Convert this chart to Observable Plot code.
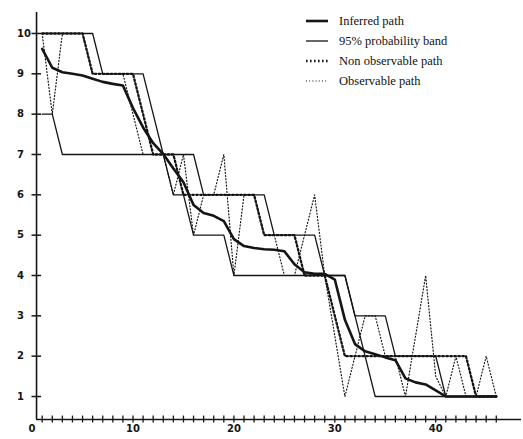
<!DOCTYPE html>
<html><head><meta charset="utf-8">
<script src="https://cdn.jsdelivr.net/npm/d3@7"></script>
<script src="https://cdn.jsdelivr.net/npm/@observablehq/plot@0.6"></script>
<style>
body{margin:0;background:#fff;}
#wrap{position:relative;width:523px;height:439px;}
#legend{position:absolute;left:306px;top:11px;font-family:"Liberation Serif",serif;font-size:12.5px;color:#111;line-height:20px;}
#legend div{display:flex;align-items:center;height:20px;}
#legend svg{margin-right:11px;}
</style></head><body><div id="wrap"><div id="legend"></div></div>
<script>
const times = d3.range(1, 47);
const inferredPath = [9.62,9.15,9.04,9.0,8.96,8.88,8.8,8.75,8.71,8.15,7.67,7.28,7.01,6.65,6.31,5.75,5.55,5.48,5.35,4.9,4.73,4.68,4.65,4.64,4.6,4.28,4.08,4.04,4.04,3.9,2.9,2.3,2.12,2.05,1.97,1.9,1.45,1.35,1.3,1.15,1.0,1.0,1.0,1.0,1.0,1.0];
const upperBand = [10,10,10,10,10,10,9,9,9,9,9,8,7,7,7,7,6,6,6,6,6,6,6,5,5,5,5,5,4,4,4,3,3,3,3,2,2,2,2,2,1,1,1,1,1,1];
const lowerBand = [8,8,7,7,7,7,7,7,7,7,7,7,7,6,6,5,5,5,5,4,4,4,4,4,4,4,4,4,4,4,4,3,2,1,1,1,1,1,1,1,1,1,1,1,1,1];
const nonObservablePath = [10,10,10,10,10,9,9,9,9,9,8,7,7,7,6,6,6,6,6,6,6,6,5,5,5,5,4,4,4,3,2,2,2,2,2,2,2,2,2,2,2,2,2,1,1,1];
const observablePath = [10,8,10,10,10,9,9,9,9,8,7,7,7,6,7,5,6,6,7,4,6,6,5,5,4,4,5,6,4,2.5,1,2,3,3,2,2,1,2.5,4,1.5,1,2,1,1,2,1];
const xTickLabels = [0, 10, 20, 30, 40];
const yTickLabels = [1, 2, 3, 4, 5, 6, 7, 8, 9, 10];
const seriesNames = ["Inferred path", "95% probability band", "Non observable path", "Observable path"];

const ink = "#151515";
const styles = [
  {strokeWidth: 2.6, dash: null},
  {strokeWidth: 1.3, dash: null},
  {strokeWidth: 2.3, dash: "1.6,2.4"},
  {strokeWidth: 1.2, dash: "1,2.2"}
];
const toRows = vals => times.map((t, i) => ({t, v: vals[i]}));
const xAxisY = 0.43, yAxisX = 0.44;

const chart = Plot.plot({
  width: 523, height: 439,
  marginLeft: 31.6, marginRight: 2, marginTop: 12, marginBottom: 20,
  x: {domain: [0, 48.5], axis: null},
  y: {domain: [0.43, 10.52], axis: null},
  style: {background: "#fff"},
  marks: [
    Plot.ruleY([xAxisY], {x1: yAxisX, x2: 48.5, stroke: ink, strokeWidth: 1.6}),
    Plot.ruleX([yAxisX], {y1: xAxisY, y2: 10.52, stroke: ink, strokeWidth: 1.6}),
    Plot.ruleX(times, {x: d => d, y1: xAxisY - 0.085, y2: xAxisY + 0.085, stroke: ink, strokeWidth: 1.3}),
    Plot.ruleY(yTickLabels, {y: d => d, x1: yAxisX - 0.45, x2: yAxisX + 0.5, stroke: ink, strokeWidth: 1.5}),
    Plot.text(xTickLabels, {x: d => d, frameAnchor: "bottom", dy: 12, text: d => String(d), fontFamily: "DejaVu Sans", fontWeight: "bold", fontSize: 10, fill: ink}),
    Plot.text(yTickLabels, {y: d => d, frameAnchor: "left", dx: -15, textAnchor: "start", text: d => String(d), fontFamily: "DejaVu Sans", fontWeight: "bold", fontSize: 10, fill: ink}),
    Plot.line(toRows(observablePath), {x: "t", y: "v", stroke: ink, strokeWidth: styles[3].strokeWidth, strokeDasharray: styles[3].dash}),
    Plot.line(toRows(nonObservablePath), {x: "t", y: "v", stroke: ink, strokeWidth: styles[2].strokeWidth, strokeDasharray: styles[2].dash}),
    Plot.line(toRows(upperBand), {x: "t", y: "v", stroke: ink, strokeWidth: styles[1].strokeWidth}),
    Plot.line(toRows(lowerBand), {x: "t", y: "v", stroke: ink, strokeWidth: styles[1].strokeWidth}),
    Plot.line(toRows(inferredPath), {x: "t", y: "v", stroke: ink, strokeWidth: styles[0].strokeWidth, strokeLinejoin: "round"})
  ]
});
const wrap = document.getElementById("wrap");
wrap.insertBefore(chart, wrap.firstChild);

const legend = document.getElementById("legend");
seriesNames.forEach((name, i) => {
  const row = document.createElement("div");
  const s = styles[i];
  row.innerHTML = `<svg width="22" height="6"><line x1="0" x2="22" y1="3" y2="3" stroke="${ink}" stroke-width="${s.strokeWidth}" ${s.dash ? `stroke-dasharray="${s.dash}"` : ""}/></svg><span>${name}</span>`;
  legend.appendChild(row);
});
</script></body></html>
